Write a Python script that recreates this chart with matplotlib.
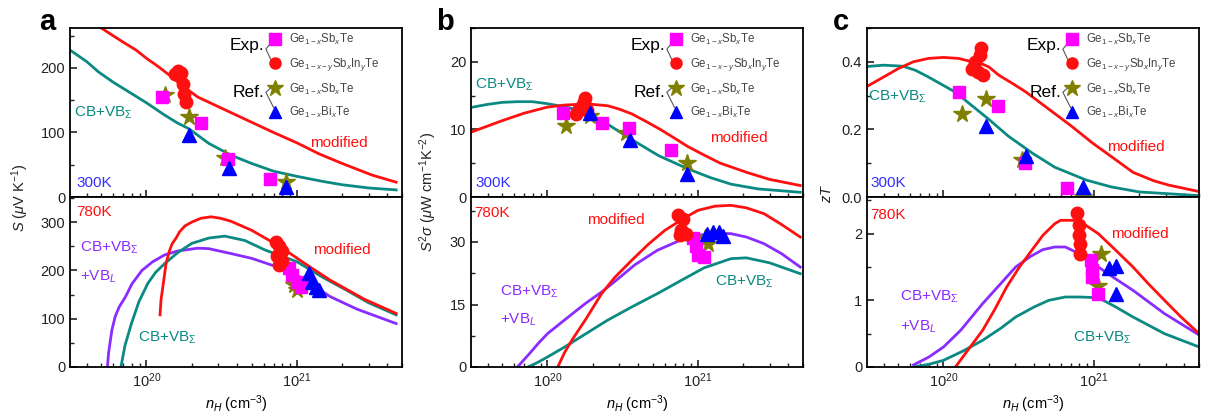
import matplotlib
matplotlib.use("Agg")
import matplotlib.pyplot as plt
import numpy as np
from matplotlib.ticker import MultipleLocator, LogLocator
from matplotlib.lines import Line2D

plt.rcParams.update({
    "font.family": ["Liberation Sans", "DejaVu Sans"],
    "font.size": 10.5,
    "mathtext.fontset": "custom",
    "mathtext.rm": "Liberation Sans",
    "mathtext.it": "Liberation Sans:italic",
    "mathtext.bf": "Liberation Sans:bold",
})

E20 = 1e20  # carrier concentrations below are in units of 1e20 cm^-3
TEAL, RED, PURPLE = "#0a8a82", "#ff1010", "#8a2cff"
MAG, OLIVE, BLUE = "#ff00ff", "#808000", "#0000ff"

# ---------------- 300 K (top rows) ----------------
# a: Seebeck
n_a300_teal = np.array([0.309, 0.4, 0.479, 0.6, 0.8, 1.0, 1.3, 1.6, 1.91, 2.6, 3.63, 5.0, 7.0, 10.0,
                        15.0, 20.0, 30.0, 45.7])
S_a300_teal = [228, 210, 194, 178, 160, 146, 128, 115, 106, 83, 65, 52, 40, 32, 24, 19, 14, 11]
n_a300_red = np.array([0.50, 0.6, 0.7, 0.85, 1.0, 1.2, 1.4, 1.7, 2.19, 3.2, 4.68, 7.0, 10.0, 14.0,
                       20.0, 31.6, 45.7])
S_a300_red = [262, 250, 240, 228, 215, 202, 190, 174, 155, 137, 119, 100, 84, 67, 52, 34, 23]
# b: power factor
n_b300_teal = np.array([0.302, 0.4, 0.501, 0.63, 0.794, 1.0, 1.26, 1.58, 1.86, 2.5, 3.63, 5.5, 8.51,
                        12.0, 16.6, 25.0, 47.9])
PF_b300_teal = [13.2, 13.7, 14.0, 14.1, 14.1, 13.8, 13.4, 12.9, 12.4, 10.8, 8.5, 6.1, 4.2, 2.9,
                1.9, 1.2, 0.7]
n_b300_red = np.array([0.302, 0.4, 0.501, 0.7, 1.0, 1.3, 1.58, 2.0, 2.51, 3.0, 3.63, 4.5, 5.62, 7.0,
                       8.51, 11.0, 14.1, 21.4, 30.0, 47.9])
PF_b300_red = [9.5, 10.5, 11.3, 12.4, 13.3, 13.6, 13.7, 13.7, 13.5, 13.0, 12.3, 11.2, 10.0, 8.7,
               7.5, 6.2, 5.0, 3.6, 2.6, 1.7]
# c: zT
n_c300_teal = np.array([0.309, 0.4, 0.537, 0.65, 0.794, 1.0, 1.2, 1.5, 2.0, 2.7, 3.89, 5.5, 8.91,
                        13.0, 20.0, 50.1])
zT_c300_teal = [0.386, 0.39, 0.387, 0.375, 0.355, 0.33, 0.31, 0.275, 0.23, 0.18, 0.13, 0.088, 0.05,
                0.03, 0.015, 0.004]
n_c300_red = np.array([0.309, 0.4, 0.501, 0.63, 0.794, 1.0, 1.26, 1.55, 1.78, 2.0, 2.34, 2.9, 3.55,
                       5.01, 7.08, 9.77, 13.5, 18.2, 25.0, 31.6, 50.1])
zT_c300_red = [0.327, 0.355, 0.38, 0.40, 0.41, 0.413, 0.41, 0.40, 0.395, 0.385, 0.36, 0.335, 0.31,
               0.26, 0.21, 0.16, 0.115, 0.073, 0.048, 0.035, 0.016]

# 300 K markers
n_sq300 = np.array([1.26, 2.29, 3.47, 6.61])
S_sq300 = [155, 115, 59, 28]
PF_sq300 = [12.5, 11.0, 10.2, 7.0]
zT_sq300 = [0.31, 0.27, 0.10, 0.028]
n_ci300 = np.array([1.55, 1.62, 1.70, 1.74, 1.78, 1.82])
S_ci300 = [190, 195, 193, 175, 160, 148]
PF_ci300 = [12.3, 13.0, 13.5, 14.0, 14.7, 12.8]
zT_ci300 = [0.38, 0.40, 0.37, 0.42, 0.44, 0.36]
n_st300 = np.array([1.32, 1.91, 3.31, 8.51])
S_st300 = [158, 124, 60, 23]
PF_st300 = [10.5, 12.0, 9.5, 5.1]
zT_st300 = [0.245, 0.29, 0.11, 0.0]
n_tr300 = np.array([1.91, 3.55, 8.51])
S_tr300 = [96, 45, 16]
PF_tr300 = [12.5, 8.5, 3.4]
zT_tr300 = [0.21, 0.12, 0.03]

# ---------------- 780 K (bottom rows) ----------------
n_a780_red = np.array([1.23, 1.25, 1.29, 1.35, 1.42, 1.48, 1.58, 1.66, 1.8, 2.0, 2.3, 2.69, 3.1,
                       3.63, 5.01, 7.76, 11.2, 16.6, 28.2, 45.7])
S_a780_red = [108, 140, 170, 215, 240, 255, 268, 280, 292, 300, 308, 311, 308, 302, 283, 249,
              215, 180, 140, 111]
n_a780_teal = np.array([0.676, 0.72, 0.794, 0.89, 1.02, 1.15, 1.32, 1.6, 2.0, 2.6, 3.31, 4.5, 6.17,
                        10.0, 15.0, 21.4, 30.0, 45.7])
S_a780_teal = [0, 45, 90, 135, 173, 196, 214, 236, 256, 267, 271, 262, 242, 218, 185, 159, 133, 108]
n_a780_pur = np.array([0.55, 0.56, 0.589, 0.62, 0.66, 0.724, 0.80, 0.933, 1.1, 1.32, 1.6, 2.19, 2.6,
                       3.63, 5.0, 7.76, 10.0, 16.6, 25.0, 45.7])
S_a780_pur = [0, 30, 77, 105, 125, 145, 172, 200, 218, 232, 240, 246, 245, 235, 225, 205, 190,
              146, 120, 90]

n_b780_red = np.array([1.17, 1.3, 1.45, 1.8, 2.29, 2.8, 3.63, 4.7, 6.03, 8.0, 10.0, 13.0, 16.6,
                       21.0, 27.5, 36.0, 47.9])
PF_b780_red = [0, 3.5, 6.4, 11.5, 17.6, 21.5, 25.6, 29.5, 32.8, 35.6, 37.6, 38.6, 38.8, 38.2,
               36.8, 34.2, 31.2]
n_b780_pur = np.array([0.631, 0.75, 0.87, 1.0, 1.3, 1.78, 2.29, 2.82, 3.8, 5.37, 7.5, 10.0, 13.0,
                       16.6, 21.0, 27.5, 36.0, 47.9])
PF_b780_pur = [0, 3.0, 5.7, 8.0, 11.3, 15.2, 18.0, 20.6, 24.5, 28.0, 30.3, 31.6, 32.1, 32.0,
               31.2, 29.6, 27.2, 24.0]
n_b780_teal = np.array([0.741, 0.85, 1.0, 1.3, 1.66, 2.5, 3.63, 5.5, 7.76, 11.0, 16.6, 21.0, 30.0,
                        47.9])
PF_b780_teal = [0, 1.0, 2.4, 4.8, 7.2, 11.2, 14.4, 17.8, 20.8, 23.8, 26.0, 26.2, 25.0, 22.4]

n_c780_red = np.array([1.20, 1.45, 1.82, 2.2, 2.63, 3.2, 3.89, 4.6, 5.5, 6.0, 7.41, 8.5, 10.7, 14.0,
                       18.2, 23.0, 29.5, 38.0, 50.1])
zT_c780_red = [0, 0.25, 0.55, 0.87, 1.2, 1.5, 1.76, 1.98, 2.15, 2.2, 2.2, 2.15, 2.0, 1.75, 1.5,
               1.25, 1.0, 0.75, 0.5]
n_c780_pur = np.array([0.631, 0.8, 1.0, 1.3, 1.82, 2.4, 3.02, 3.8, 4.57, 5.5, 6.46, 8.0, 10.7, 14.0,
                       18.2, 29.5, 50.1])
zT_c780_pur = [0.03, 0.15, 0.3, 0.55, 0.95, 1.25, 1.5, 1.66, 1.76, 1.8, 1.8, 1.7, 1.5, 1.32, 1.15,
               0.8, 0.48]
n_c780_teal = np.array([0.631, 0.8, 1.0, 1.35, 1.82, 2.4, 3.02, 4.0, 5.01, 6.46, 8.0, 10.7, 14.0,
                        18.2, 29.5, 50.1])
zT_c780_teal = [0, 0.04, 0.1, 0.24, 0.4, 0.58, 0.75, 0.9, 1.0, 1.05, 1.05, 1.04, 0.9, 0.75, 0.5, 0.3]

# 780 K markers
n_ci780_a = np.array([7.24, 7.59, 7.94, 7.41, 7.94, 7.59])
S_ci780 = [258, 250, 240, 230, 220, 212]
n_sq780_a = np.array([8.91, 9.33, 10.0, 10.7])
S_sq780 = [205, 190, 175, 165]
n_st780_a = np.array([9.55, 10.0])
S_st780 = [170, 160]
n_tr780_a = np.array([12.0, 12.6, 13.5, 14.1])
S_tr780 = [195, 175, 165, 160]

n_ci780_b = np.array([7.41, 7.94, 7.76, 8.32, 7.59])
PF_ci780 = [36.5, 35.5, 33.0, 32.0, 31.8]
n_sq780_b = np.array([9.33, 9.77, 10.0, 11.0])
PF_sq780 = [31, 29, 27, 26.5]
n_st780_b = np.array([11.2, 11.7])
PF_st780 = [31, 29.5]
n_tr780_b = np.array([11.5, 12.6, 13.8, 14.8])
PF_tr780 = [32, 32.5, 32.5, 31.5]

n_ci780_c = np.array([7.76, 7.94, 7.94, 8.13, 8.13])
zT_ci780 = [2.31, 2.13, 1.98, 1.85, 1.7]
n_sq780_c = np.array([9.55, 9.77, 9.77, 10.7])
zT_sq780 = [1.6, 1.45, 1.35, 1.1]
n_st780_c = np.array([11.2, 10.7])
zT_st780 = [1.7, 1.22]
n_tr780_c = np.array([12.6, 14.1, 14.1])
zT_tr780 = [1.48, 1.52, 1.1]

legend_labels = [r"Ge$_{1-x}$Sb$_x$Te", r"Ge$_{1-x-y}$Sb$_x$In$_y$Te",
                 r"Ge$_{1-x}$Sb$_x$Te", r"Ge$_{1-x}$Bi$_x$Te"]

fig = plt.figure(figsize=(12.07, 4.18), dpi=100)
W, H = 1207, 418
lefts = [70, 471, 867]
aw = 332


def px_axes(left, top, bottom):
    return fig.add_axes([left / W, 1 - bottom / H, aw / W, (bottom - top) / H])


def style(ax, ymax, major, minor, bottom_labels):
    ax.set_xscale("log")
    ax.set_xlim(3.1e19, 5e21)
    ax.set_ylim(0, ymax)
    ax.yaxis.set_major_locator(MultipleLocator(major))
    ax.yaxis.set_minor_locator(MultipleLocator(minor))
    ax.xaxis.set_minor_locator(LogLocator(base=10, subs=np.arange(2, 10)))
    ax.tick_params(which="both", direction="in", top=False, right=False,
                   colors="#222222", labelsize=10.5)
    ax.tick_params(which="major", length=5, width=1.2)
    ax.tick_params(which="minor", length=3, width=1.0)
    for s in ax.spines.values():
        s.set_linewidth(1.3)
    if not bottom_labels:
        ax.tick_params(axis="x", which="both", labelbottom=False)


def markers(ax, sets):
    (nsq, ysq), (nci, yci), (nst, yst), (ntr, ytr) = sets
    ax.plot(nsq * E20, ysq, "s", color=MAG, ms=9, ls="none", zorder=5)
    ax.plot(nci * E20, yci, "o", color=RED, ms=9, ls="none", zorder=5)
    ax.plot(nst * E20, yst, "*", color=OLIVE, ms=13, ls="none", zorder=4)
    ax.plot(ntr * E20, ytr, "^", color=BLUE, ms=10, ls="none", zorder=6)


def add_legend(ax):
    handles = [Line2D([], [], marker="s", color=MAG, ms=8, ls="none"),
               Line2D([], [], marker="o", color=RED, ms=8, ls="none"),
               Line2D([], [], marker="*", color=OLIVE, ms=12, ls="none"),
               Line2D([], [], marker="^", color=BLUE, ms=9, ls="none")]
    leg = ax.legend(handles, legend_labels, loc="upper left",
                    bbox_to_anchor=(0.585, 1.0), frameon=False, fontsize=8.3,
                    handlelength=1.2, handletextpad=0.6, labelspacing=0.75,
                    borderpad=0.35, borderaxespad=0)
    for t in leg.get_texts():
        t.set_color("#444444")
    tr = ax.transAxes
    ax.text(0.585, 0.895, "Exp.", transform=tr, ha="right", va="center", fontsize=12.5)
    ax.plot([0.613, 0.59, 0.613], [0.93, 0.875, 0.78], color="#555555", lw=0.8, transform=tr)
    ax.text(0.585, 0.62, "Ref.", transform=tr, ha="right", va="center", fontsize=12.5)
    ax.plot([0.613, 0.59, 0.613], [0.66, 0.62, 0.53], color="#555555", lw=0.8, transform=tr)


def label(ax, x, y, s, c):
    ax.text(x, y, s, transform=ax.transAxes, color=c, ha="left", va="center", fontsize=11)


lw = 2.0
CBS = r"CB+VB$_\Sigma$"
VBL = r"+VB$_L$"

# ---- panel a ----
ax = px_axes(lefts[0], 28, 197)
style(ax, 262, 100, 50, False)
ax.plot(n_a300_teal * E20, S_a300_teal, color=TEAL, lw=lw)
ax.plot(n_a300_red * E20, S_a300_red, color=RED, lw=lw)
markers(ax, [(n_sq300, S_sq300), (n_ci300, S_ci300), (n_st300, S_st300), (n_tr300, S_tr300)])
add_legend(ax)
label(ax, 0.012, 0.497, CBS, TEAL)
label(ax, 0.723, 0.32, "modified", RED)
label(ax, 0.02, 0.083, "300K", "#3030ff")

ax = px_axes(lefts[0], 197, 367)
style(ax, 352, 100, 50, True)
ax.plot(n_a780_pur * E20, S_a780_pur, color=PURPLE, lw=lw)
ax.plot(n_a780_teal * E20, S_a780_teal, color=TEAL, lw=lw)
ax.plot(n_a780_red * E20, S_a780_red, color=RED, lw=lw)
markers(ax, [(n_sq780_a, S_sq780), (n_ci780_a, S_ci780), (n_st780_a, S_st780), (n_tr780_a, S_tr780)])
label(ax, 0.02, 0.91, "780K", RED)
label(ax, 0.03, 0.70, CBS, PURPLE)
label(ax, 0.03, 0.53, VBL, PURPLE)
label(ax, 0.205, 0.17, CBS, TEAL)
label(ax, 0.732, 0.69, "modified", RED)
ax.set_xlabel(r"$n_H$ (cm$^{-3}$)", fontsize=10.5, labelpad=2)

# ---- panel b ----
ax = px_axes(lefts[1], 28, 197)
style(ax, 25, 10, 5, False)
ax.plot(n_b300_teal * E20, PF_b300_teal, color=TEAL, lw=lw)
ax.plot(n_b300_red * E20, PF_b300_red, color=RED, lw=lw)
markers(ax, [(n_sq300, PF_sq300), (n_ci300, PF_ci300), (n_st300, PF_st300), (n_tr300, PF_tr300)])
add_legend(ax)
label(ax, 0.012, 0.663, CBS, TEAL)
label(ax, 0.72, 0.35, "modified", RED)
label(ax, 0.012, 0.083, "300K", "#3030ff")

ax = px_axes(lefts[1], 197, 367)
style(ax, 40.8, 15, 7.5, True)
ax.plot(n_b780_pur * E20, PF_b780_pur, color=PURPLE, lw=lw)
ax.plot(n_b780_teal * E20, PF_b780_teal, color=TEAL, lw=lw)
ax.plot(n_b780_red * E20, PF_b780_red, color=RED, lw=lw)
markers(ax, [(n_sq780_b, PF_sq780), (n_ci780_b, PF_ci780), (n_st780_b, PF_st780), (n_tr780_b, PF_tr780)])
label(ax, 0.01, 0.906, "780K", RED)
label(ax, 0.35, 0.865, "modified", RED)
label(ax, 0.087, 0.44, CBS, PURPLE)
label(ax, 0.087, 0.276, VBL, PURPLE)
label(ax, 0.735, 0.50, CBS, TEAL)
ax.set_xlabel(r"$n_H$ (cm$^{-3}$)", fontsize=10.5, labelpad=2)

# ---- panel c ----
ax = px_axes(lefts[2], 28, 197)
style(ax, 0.5, 0.2, 0.1, False)
ax.yaxis.set_major_formatter(plt.FormatStrFormatter("%.1f"))
ax.plot(n_c300_teal * E20, zT_c300_teal, color=TEAL, lw=lw)
ax.plot(n_c300_red * E20, zT_c300_red, color=RED, lw=lw)
markers(ax, [(n_sq300, zT_sq300), (n_ci300, zT_ci300), (n_st300, zT_st300), (n_tr300, zT_tr300)])
add_legend(ax)
label(ax, 0.003, 0.59, CBS, TEAL)
label(ax, 0.724, 0.296, "modified", RED)
label(ax, 0.01, 0.083, "300K", "#3030ff")

ax = px_axes(lefts[2], 197, 367)
style(ax, 2.55, 1, 0.5, True)
ax.plot(n_c780_pur * E20, zT_c780_pur, color=PURPLE, lw=lw)
ax.plot(n_c780_teal * E20, zT_c780_teal, color=TEAL, lw=lw)
ax.plot(n_c780_red * E20, zT_c780_red, color=RED, lw=lw)
markers(ax, [(n_sq780_c, zT_sq780), (n_ci780_c, zT_ci780), (n_st780_c, zT_st780), (n_tr780_c, zT_tr780)])
label(ax, 0.01, 0.894, "780K", RED)
label(ax, 0.736, 0.78, "modified", RED)
label(ax, 0.10, 0.41, CBS, PURPLE)
label(ax, 0.10, 0.235, VBL, PURPLE)
label(ax, 0.62, 0.17, CBS, TEAL)
ax.set_xlabel(r"$n_H$ (cm$^{-3}$)", fontsize=10.5, labelpad=2)

# y labels and panel letters
fig.text(20 / W, 1 - 198 / H, r"$S$ ($\mu$V K$^{-1}$)", rotation=90, ha="center", va="center",
         fontsize=10.5, color="#222222")
fig.text(428 / W, 1 - 192 / H, r"$S^2\sigma$ ($\mu$W cm$^{-1}$K$^{-2}$)", rotation=90,
         ha="center", va="center", fontsize=10.5, color="#222222")
fig.text(827 / W, 1 - 193 / H, r"$zT$", rotation=90, ha="center", va="center",
         fontsize=10.5, color="#222222")
for x, s in [(47, "a"), (445, "b"), (841, "c")]:
    fig.text(x / W, 1 - 22 / H, s, ha="center", va="center", fontsize=21, fontweight="bold")

fig.savefig("out.png", dpi=100)
